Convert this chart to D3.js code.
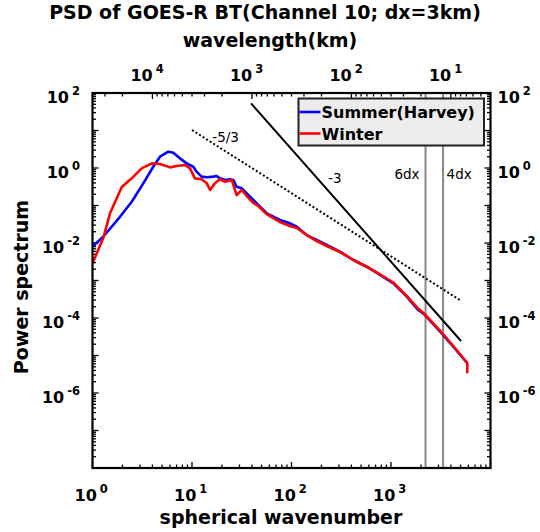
<!DOCTYPE html>
<html>
<head>
<meta charset="utf-8">
<script src="https://cdn.jsdelivr.net/npm/d3@7"></script>
<style>
  body { margin: 0; background: #fff; }
  svg { display: block; font-family: "DejaVu Sans", sans-serif; }
</style>
</head>
<body>
<svg id="chart"></svg>
<script>
// ─── Data ────────────────────────────────────────────────────────────────────
const summerN = [1, 1.28, 1.89, 2.48, 3.24, 4.08, 4.77, 5.78, 6.49, 7.57, 8.84, 10.3, 11.1, 12.5,
  14.1, 16.4, 17.7, 19.1, 21.5, 24.1, 26.0, 28.1, 31.6, 35.5, 41.3, 46.4, 56.3, 76.6, 96.6,
  113, 142, 179, 226, 307, 418, 570, 775, 1055, 1438, 1880, 2197, 3234, 4225, 5845];
const summerP = [8.0e-3, 1.47e-2, 5.0e-2, 0.126, 0.39, 1.08, 2.0, 2.72, 2.56, 1.81, 1.33, 1.08, 0.80, 0.59,
  0.565, 0.59, 0.61, 0.53, 0.48, 0.50, 0.48, 0.317, 0.288, 0.211, 0.140, 0.103, 0.062, 0.041, 0.0335,
  0.0272, 0.0163, 0.012, 0.00885, 0.00586, 0.00352, 0.00233, 1.4e-3, 8.4e-4, 3.7e-4, 1.63e-4, 1.2e-4,
  3.9e-5, 1.72e-5, 6.2e-6];

const winterN = [1, 1.28, 1.50, 1.97, 2.48, 3.12, 3.94, 4.77, 6.01, 7.02, 8.5, 9.55, 10.7, 12.5, 14.1,
  15.2, 17.0, 19.1, 21.5, 25.1, 28.1, 31.6, 35.5, 41.3, 46.4, 56.3, 76.6, 96.6, 113, 142, 179, 226,
  307, 418, 570, 775, 1055, 1438, 1880, 2197, 3234, 4225, 5845, 5845];
const winterP = [2.88e-3, 1.33e-2, 0.062, 0.311, 0.53, 0.98, 1.33, 1.28, 1.04, 1.13, 1.20, 0.98, 0.53, 0.50,
  0.39, 0.259, 0.39, 0.50, 0.43, 0.48, 0.19, 0.259, 0.179, 0.117, 0.097, 0.059, 0.036, 0.0284, 0.0251,
  0.0163, 0.0113, 0.0083, 0.00575, 0.00352, 0.00233, 1.45e-3, 8.85e-4, 3.86e-4, 1.79e-4, 1.24e-4,
  4.1e-5, 1.79e-5, 6.3e-6, 3.35e-6];

const seriesNames = ["Summer(Harvey)", "Winter"];
const seriesColors = ["#0000ff", "#ff0000"];

// Reference slopes: endpoints in (wavenumber, power)
const slopeLines = [
  { label: "-5/3", n: [10, 4940], p: [10.3, 3.0e-4], dashed: true, labelN: 16, labelP: 4.9 },
  { label: "-3", n: [39.2, 5055], p: [53.1, 2.44e-5], dashed: false, labelN: 233, labelP: 0.4 }
];

// Grid-resolution markers (dx = 3 km)
const EARTH_CIRC = 40030; // km, wavelength = EARTH_CIRC / wavenumber
const dx = 3;
const dxMarks = [{ label: "6dx", mult: 6, side: "left" }, { label: "4dx", mult: 4, side: "right" }];
const dxLabelP = 0.51;

const xDomain = [1, 1e4];
const yDomain = [1e-8, 1e2];
const bottomLabelExps = [0, 1, 2, 3];
const topLabelExps = [4, 3, 2, 1];
const yLabelExps = [2, 0, -2, -4, -6];

// ─── Layout ──────────────────────────────────────────────────────────────────
const W = 540, H = 532;
const M = { left: 92.5, right: 490.5, top: 93, bottom: 468 };

const svg = d3.select("#chart").attr("width", W).attr("height", H);

const x = d3.scaleLog().domain(xDomain).range([M.left, M.right]);
const y = d3.scaleLog().domain(yDomain).range([M.bottom, M.top]);

svg.append("defs").append("clipPath").attr("id", "plot-clip")
  .append("rect").attr("x", M.left).attr("y", M.top)
  .attr("width", M.right - M.left).attr("height", M.bottom - M.top);

// ─── Ticks (inward, on all four sides) ───────────────────────────────────────
function logTicks(lo, hi) {
  const out = [];
  for (let e = Math.floor(Math.log10(lo)); e <= Math.ceil(Math.log10(hi)); e++) {
    for (let k = 1; k <= 9; k++) {
      const v = k * Math.pow(10, e);
      if (v >= lo * 0.9999 && v <= hi * 1.0001) out.push({ v, major: k === 1 });
    }
  }
  return out;
}

const ticks = svg.append("g").attr("stroke", "#000").attr("stroke-width", 1.3);
const majorLen = 6, minorLen = 3.5;

logTicks(...xDomain).forEach(t => {
  const len = t.major ? majorLen : minorLen;
  ticks.append("line").attr("x1", x(t.v)).attr("x2", x(t.v))
    .attr("y1", M.bottom).attr("y2", M.bottom - len);
});
// top axis: wavelength in km
logTicks(EARTH_CIRC / xDomain[1], EARTH_CIRC / xDomain[0]).forEach(t => {
  const len = t.major ? majorLen : minorLen;
  const px = x(EARTH_CIRC / t.v);
  ticks.append("line").attr("x1", px).attr("x2", px)
    .attr("y1", M.top).attr("y2", M.top + len);
});
logTicks(...yDomain).forEach(t => {
  const len = t.major ? majorLen : minorLen;
  ticks.append("line").attr("x1", M.left).attr("x2", M.left + len)
    .attr("y1", y(t.v)).attr("y2", y(t.v));
  ticks.append("line").attr("x1", M.right).attr("x2", M.right - len)
    .attr("y1", y(t.v)).attr("y2", y(t.v));
});

// ─── Tick labels: 10^n ───────────────────────────────────────────────────────
function powLabel(px, py, exp, anchor) {
  const t = svg.append("text").attr("x", px).attr("y", py)
    .attr("text-anchor", anchor).attr("font-weight", "bold").attr("font-size", 16);
  t.append("tspan").text("10");
  t.append("tspan").attr("dx", 3).attr("dy", -8).attr("font-size", 11.5).text(exp);
  return t;
}

bottomLabelExps.forEach(e => {
  const t = powLabel(x(Math.pow(10, e)) - 18, M.bottom + 33, e, "start");
});
topLabelExps.forEach(e => {
  powLabel(x(EARTH_CIRC / Math.pow(10, e)) - 22, M.top - 12, e, "start");
});
yLabelExps.forEach(e => {
  powLabel(M.left - 12.5, y(Math.pow(10, e)) + 10, e, "end");
  powLabel(M.right + 7, y(Math.pow(10, e)) + 10, e, "start");
});

// ─── Reference lines ─────────────────────────────────────────────────────────
const plot = svg.append("g").attr("clip-path", "url(#plot-clip)");

dxMarks.forEach(d => {
  const px = x(EARTH_CIRC / (d.mult * dx));
  plot.append("line").attr("x1", px).attr("x2", px)
    .attr("y1", M.top).attr("y2", M.bottom)
    .attr("stroke", "#888").attr("stroke-width", 2);
  svg.append("text")
    .attr("x", d.side === "left" ? px - 6 : px + 3.5)
    .attr("y", y(dxLabelP))
    .attr("text-anchor", d.side === "left" ? "end" : "start")
    .attr("font-size", 13.5).text(d.label);
});

const line = d3.line().x(d => x(d[0])).y(d => y(d[1]));

slopeLines.forEach(s => {
  plot.append("path")
    .attr("d", line(d3.zip(s.n, s.p)))
    .attr("fill", "none").attr("stroke", "#000")
    .attr("stroke-width", 2)
    .attr("stroke-dasharray", s.dashed ? "2,2.2" : null);
  svg.append("text").attr("x", x(s.labelN)).attr("y", y(s.labelP))
    .attr("font-size", 13.5).text(s.label);
});

// ─── Spectra ─────────────────────────────────────────────────────────────────
[[summerN, summerP], [winterN, winterP]].forEach(([ns, ps], i) => {
  plot.append("path")
    .attr("d", line(d3.zip(ns, ps)))
    .attr("fill", "none")
    .attr("stroke", seriesColors[i])
    .attr("stroke-width", 2.6)
    .attr("stroke-linejoin", "round");
});

// ─── Axes box ────────────────────────────────────────────────────────────────
svg.append("rect").attr("x", M.left).attr("y", M.top)
  .attr("width", M.right - M.left).attr("height", M.bottom - M.top)
  .attr("fill", "none").attr("stroke", "#000").attr("stroke-width", 2.2);

// ─── Legend ──────────────────────────────────────────────────────────────────
const lg = svg.append("g").attr("transform", "translate(298.5,98.5)");
lg.append("rect").attr("width", 185.5).attr("height", 47)
  .attr("fill", "#ececec").attr("stroke", "#222").attr("stroke-width", 2);
seriesNames.forEach((name, i) => {
  const yy = 13.5 + i * 21.5;
  lg.append("line").attr("x1", 1).attr("x2", 22).attr("y1", yy).attr("y2", yy)
    .attr("stroke", seriesColors[i]).attr("stroke-width", 2.6);
  lg.append("text").attr("x", 23).attr("y", yy + 6)
    .attr("font-weight", "bold").attr("font-size", 16).text(name);
});

// ─── Titles ──────────────────────────────────────────────────────────────────
svg.append("text").attr("x", 265).attr("y", 18.5).attr("text-anchor", "middle")
  .attr("font-weight", "bold").attr("font-size", 19)
  .text("PSD of GOES-R BT(Channel 10; dx=3km)");
svg.append("text").attr("x", 270).attr("y", 47).attr("text-anchor", "middle")
  .attr("font-weight", "bold").attr("font-size", 19).text("wavelength(km)");
svg.append("text").attr("x", 281).attr("y", 524).attr("text-anchor", "middle")
  .attr("font-weight", "bold").attr("font-size", 19).text("spherical wavenumber");
svg.append("text")
  .attr("transform", "translate(28,287) rotate(-90)")
  .attr("text-anchor", "middle")
  .attr("font-weight", "bold").attr("font-size", 19).text("Power spectrum");
</script>
</body>
</html>
